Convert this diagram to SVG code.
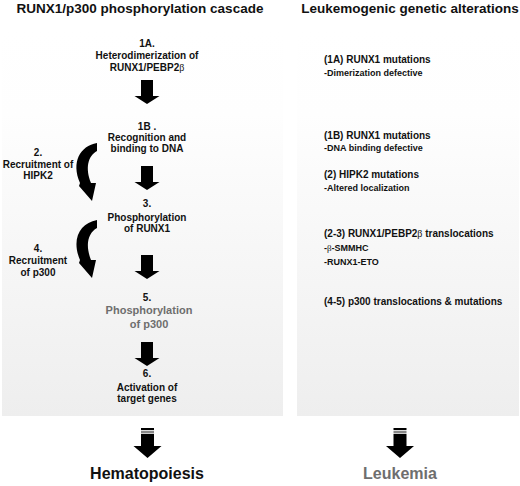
<svg xmlns="http://www.w3.org/2000/svg" width="520" height="486" viewBox="0 0 520 486">
<style>
text{font-family:"Liberation Sans",Arial,Helvetica,sans-serif;font-weight:bold;fill:#111}
.t{font-size:13.5px}
.n{font-size:10px;text-anchor:middle}
.g{fill:#6e6e6e}
.gl{font-size:11px;text-anchor:middle;fill:#6e6e6e}
.r{font-size:10px}
.s{font-size:9px}
.big{font-size:16px;text-anchor:middle}
.beta{font-family:"Liberation Serif","DejaVu Serif",serif;font-weight:normal}
.arr{fill:#000}
</style>
<defs>
<linearGradient id="pg" x1="0" y1="0" x2="0" y2="1">
<stop offset="0" stop-color="#ffffff"/>
<stop offset="0.22" stop-color="#fefefe"/>
<stop offset="1" stop-color="#eeeeee"/>
</linearGradient>
<path id="blk" d="M-6,0 H6 V16 H12.5 L0,24 L-12.5,16 H-6 Z"/>
<path id="curv" d="M97,143 C80,146 71,162 80,183 L79,186 L92,201 L96,183 L91,183 C85,168 88,156 97,151 Z"/>
<g id="strp">
<rect x="-6.5" y="0" width="13" height="2" fill="#000"/>
<rect x="-6.5" y="2" width="13" height="1" fill="#ddd"/>
<rect x="-6.5" y="3" width="13" height="2" fill="#888"/>
<rect x="-6.5" y="5" width="13" height="1" fill="#ccc"/>
<path d="M-6.5,6 H6.5 V18 H14 L0,30 L-14,18 H-6.5 Z" fill="#000"/>
</g>
</defs>
<rect width="520" height="486" fill="#fff"/>
<g id="panels">
<rect x="2" y="30" width="281" height="386" fill="url(#pg)"/>
<rect x="297" y="30" width="222" height="386" fill="url(#pg)"/>
</g>
<g id="titles">
<text class="t" x="140" y="13" text-anchor="middle">RUNX1/p300 phosphorylation cascade</text>
<text class="t" x="410" y="13" text-anchor="middle">Leukemogenic genetic alterations</text>
</g>
<g id="connectors">
<use href="#blk" x="147" y="80" class="arr"/>
<use href="#blk" x="147" y="166" class="arr"/>
<use href="#blk" x="147" y="255" class="arr"/>
<use href="#blk" x="147" y="342" class="arr"/>
<use href="#curv" class="arr"/>
<use href="#curv" y="77" class="arr"/>
<use href="#strp" x="147.5" y="428"/>
<use href="#strp" x="400" y="428"/>
</g>
<g id="n1A">
<text class="n" x="147" y="47">1A.</text>
<text class="n" x="147" y="59">Heterodimerization of</text>
<text class="n" x="147" y="71">RUNX1/PEBP2<tspan class="beta">β</tspan></text>
</g>
<g id="n1B">
<text class="n" x="147" y="130">1B .</text>
<text class="n" x="147" y="141">Recognition and</text>
<text class="n" x="147" y="152">binding to DNA</text>
</g>
<g id="n2">
<text class="n" x="38" y="156">2.</text>
<text class="n" x="38" y="168">Recruitment of</text>
<text class="n" x="38" y="179">HIPK2</text>
</g>
<g id="n3">
<text class="n" x="147" y="207">3.</text>
<text class="n" x="147" y="221">Phosphorylation</text>
<text class="n" x="147" y="232">of RUNX1</text>
</g>
<g id="n4">
<text class="n" x="38" y="252">4.</text>
<text class="n" x="38" y="264">Recruitment</text>
<text class="n" x="38" y="276">of p300</text>
</g>
<g id="n5">
<text class="n" x="147" y="301">5.</text>
<text class="gl" x="149" y="314">Phosphorylation</text>
<text class="gl" x="149" y="328">of p300</text>
</g>
<g id="n6">
<text class="n" x="147" y="377">6.</text>
<text class="n" x="147" y="391">Activation of</text>
<text class="n" x="147" y="402">target genes</text>
</g>
<g id="hemato">
<text class="big" x="147" y="479">Hematopoiesis</text>
</g>
<g id="leuk">
<text class="big g" x="400" y="479">Leukemia</text>
</g>
<g id="alt1A">
<text class="r" x="324" y="63">(1A) RUNX1 mutations</text>
<text class="s" x="324" y="76">-Dimerization defective</text>
</g>
<g id="alt1B">
<text class="r" x="324" y="139">(1B) RUNX1 mutations</text>
<text class="s" x="324" y="151">-DNA binding defective</text>
</g>
<g id="alt2">
<text class="r" x="324" y="178">(2) HIPK2 mutations</text>
<text class="s" x="324" y="191">-Altered localization</text>
</g>
<g id="alt23">
<text class="r" x="324" y="237">(2-3) RUNX1/PEBP2<tspan class="beta">β</tspan> translocations</text>
<text class="s" x="324" y="251">-<tspan class="beta">β</tspan>-SMMHC</text>
<text class="s" x="324" y="265">-RUNX1-ETO</text>
</g>
<g id="alt45">
<text class="r" x="324" y="305">(4-5) p300 translocations &amp; mutations</text>
</g>
</svg>
